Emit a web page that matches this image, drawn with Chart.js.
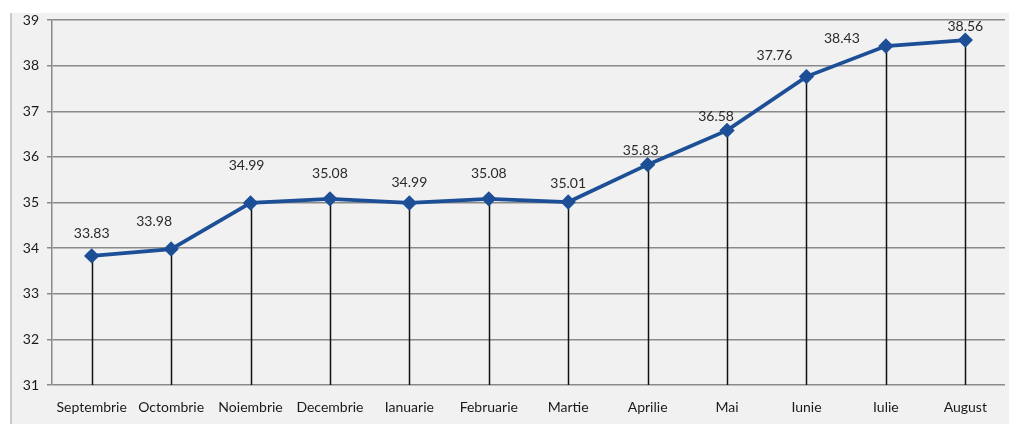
<!DOCTYPE html>
<html lang="ro">
<head>
    <meta charset="UTF-8">
    <script src="https://cdn.jsdelivr.net/npm/chart.js"></script>
    <style>
        html, body { margin: 0; padding: 0; background: #fff; }
        #wrap { width: 1009px; height: 424px; }
    </style>
</head>
<body>
<div id="wrap"><canvas id="lineChart"></canvas></div>
<script>
    // data
    const months = ['Septembrie', 'Octombrie', 'Noiembrie', 'Decembrie', 'Ianuarie', 'Februarie',
                    'Martie', 'Aprilie', 'Mai', 'Iunie', 'Iulie', 'August'];
    const values = [33.83, 33.98, 34.99, 35.08, 34.99, 35.08, 35.01, 35.83, 36.58, 37.76, 38.43, 38.56];

    // where each value label sits relative to its point (px)
    const labelDx = [0, -17, -4, 0, 0, 0, 0, -7, -11, -32, -44, 0];
    const labelDy = [-22, -28, -37, -25, -20, -25, -19, -14, -14, -21, -8, -14];

    const blue = '#1d4f97';
    const font = 'Lato, "Liberation Sans", sans-serif';

    // gray panel + left border behind everything
    const panel = {
        id: 'panel',
        beforeDraw(chart) {
            const c = chart.ctx;
            c.save();
            c.fillStyle = '#f1f1f1';
            c.fillRect(11, 13, chart.width - 11, chart.height - 13);
            c.strokeStyle = '#b9b9b9';
            c.lineWidth = 1.5;
            c.beginPath();
            c.moveTo(11, 13);
            c.lineTo(11, chart.height);
            c.stroke();
            c.restore();
        }
    };

    // black drop lines from each point down to the axis
    const dropLines = {
        id: 'dropLines',
        beforeDatasetsDraw(chart) {
            const c = chart.ctx;
            const bottom = chart.chartArea.bottom;
            c.save();
            c.strokeStyle = '#111';
            c.lineWidth = 1.5;
            chart.getDatasetMeta(0).data.forEach(pt => {
                c.beginPath();
                c.moveTo(Math.round(pt.x) + 0.5, pt.y);
                c.lineTo(Math.round(pt.x) + 0.5, bottom);
                c.stroke();
            });
            c.restore();
        }
    };

    const valueLabels = {
        id: 'valueLabels',
        afterDatasetsDraw(chart) {
            const c = chart.ctx;
            c.save();
            c.font = '14px ' + font;
            c.fillStyle = '#2a2a2a';
            c.textAlign = 'center';
            c.textBaseline = 'middle';
            chart.getDatasetMeta(0).data.forEach((pt, i) => {
                c.fillText(values[i].toFixed(2), pt.x + labelDx[i], pt.y + labelDy[i]);
            });
            c.restore();
        }
    };

    new Chart(document.getElementById('lineChart'), {
        type: 'line',
        data: {
            labels: months,
            datasets: [{
                data: values,
                borderColor: blue,
                backgroundColor: blue,
                borderWidth: 3.8,
                pointStyle: 'rectRot',
                pointRadius: 5,
                pointBackgroundColor: blue,
                pointBorderColor: blue,
                tension: 0,
                clip: false
            }]
        },
        options: {
            responsive: true,
            maintainAspectRatio: false,
            animation: false,
            layout: { autoPadding: false, padding: { top: 20, right: 4, left: 0, bottom: 0 } },
            plugins: { legend: { display: false }, tooltip: { enabled: false } },
            scales: {
                x: {
                    offset: true,
                    afterFit(scale) { scale.height = 39; },
                    grid: { display: false },
                    border: { display: false },
                    ticks: { color: '#1a1a1a', font: { family: font, size: 14 }, padding: 6, maxRotation: 0, autoSkip: false }
                },
                y: {
                    min: 31,
                    max: 39,
                    afterFit(scale) { scale.width = 52; },
                    ticks: { stepSize: 1, color: '#1a1a1a', font: { family: font, size: 14 }, padding: 8 },
                    grid: { color: '#8a8a8a', lineWidth: 1.5, tickLength: 5 },
                    border: { color: '#8a8a8a', width: 1.5 }
                }
            }
        },
        plugins: [panel, dropLines, valueLabels]
    });
</script>
</body>
</html>
